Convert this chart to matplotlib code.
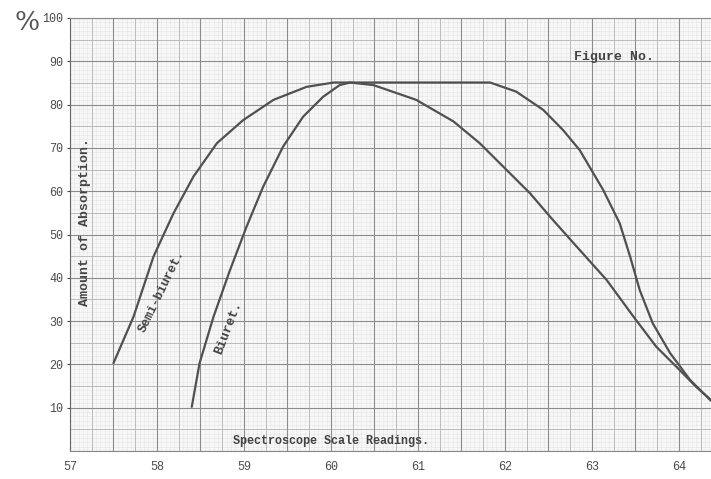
import numpy as np
import matplotlib.pyplot as plt

# readings off the scanned graph paper
semi_x = [57.50, 57.73, 57.96, 58.19, 58.42, 58.69, 58.99, 59.34, 59.72, 60.03,
          61.83, 62.13, 62.44, 62.67, 62.86, 63.13, 63.32, 63.44, 63.55, 63.70,
          63.90, 64.13, 64.37]
semi_y = [20.3, 31.0, 44.9, 54.9, 63.4, 71.1, 76.4, 81.1, 84.1, 85.1,
          85.1, 83.0, 78.8, 74.1, 69.5, 60.3, 52.6, 44.9, 37.2, 29.5,
          22.6, 16.4, 11.6]

biuret_x = [58.40, 58.49, 58.65, 58.84, 59.03, 59.22, 59.45, 59.68, 59.91, 60.10,
            60.22, 60.49, 60.98, 61.41, 61.71, 61.98, 62.29, 62.52, 62.79, 63.17,
            63.48, 63.74, 63.97, 64.20, 64.37]
biuret_y = [10.2, 20.3, 31.0, 41.8, 51.8, 61.0, 70.3, 77.2, 81.8, 84.5,
            85.1, 84.5, 81.1, 76.1, 71.1, 65.7, 59.5, 54.1, 48.0, 39.5,
            31.0, 24.1, 19.5, 14.8, 11.8]

x_ticks = [57, 58, 59, 60, 61, 62, 63, 64]
y_ticks = [10, 20, 30, 40, 50, 60, 70, 80, 90, 100]

mono = 'Liberation Mono'
ink = '#4a4a4a'

fig = plt.figure(figsize=(7.11, 4.79), dpi=100)
ax = fig.add_axes([70 / 711, 28 / 479, 1 - 70 / 711, (451 - 18) / 479])
ax.set_xlim(57, 64.37)
ax.set_ylim(0, 100)
ax.set_facecolor('#f7f7f7')

# graph paper
for v in np.arange(57, 64.4, 0.05):
    ax.axvline(v, color='#d6d6d6', lw=0.4, ls=(0, (1, 1)), zorder=0)
for v in np.arange(0, 100, 1):
    ax.axhline(v, color='#d6d6d6', lw=0.4, ls=(0, (1, 1)), zorder=0)
for v in np.arange(57, 64.4, 0.25):
    ax.axvline(v, color='#b4b4b4', lw=0.6, zorder=0)
for v in np.arange(0, 100, 5):
    ax.axhline(v, color='#b4b4b4', lw=0.6, zorder=0)
for v in np.arange(57, 64.4, 0.5):
    ax.axvline(v, color='#8c8c8c', lw=0.8, zorder=0)
for v in np.arange(0, 101, 10):
    ax.axhline(v, color='#8c8c8c', lw=0.8, zorder=0)

ax.plot(semi_x, semi_y, color='#505050', lw=1.6, zorder=3,
        solid_joinstyle='round', solid_capstyle='round')
ax.plot(biuret_x, biuret_y, color='#505050', lw=1.6, zorder=3,
        solid_joinstyle='round', solid_capstyle='round')

for s in ['top', 'bottom']:
    ax.spines[s].set_color('#888888')
ax.spines['left'].set_color('#666666')
ax.spines['right'].set_visible(False)

ax.set_xticks(x_ticks)
ax.set_xticklabels([str(t) for t in x_ticks], family=mono, fontsize=8.5, color=ink)
ax.set_yticks(y_ticks)
ax.set_yticklabels([str(t) for t in y_ticks], family=mono, fontsize=8.5, color=ink)
ax.tick_params(axis='x', length=0, pad=7)
ax.tick_params(axis='y', length=2, color=ink, pad=3)

fig.text(15 / 711, 1 - 22 / 479, '%', family='DejaVu Serif', fontsize=19,
         color='#555555', ha='left', va='center')

ax.text(57.17, 53, 'Amount of Absorption.', family=mono, fontsize=9.5,
        color='#444444', rotation=90, ha='center', va='center', weight='bold')
ax.text(58.05, 37.0, 'Semi-biuret.', family=mono, fontsize=9, color='#444444',
        rotation=64, ha='center', va='center', weight='bold')
ax.text(58.82, 28.4, 'Biuret.', family=mono, fontsize=9.5, color='#444444',
        rotation=69, ha='center', va='center', weight='bold')
ax.text(63.25, 91, 'Figure No.', family=mono, fontsize=9.5, color='#444444',
        ha='center', va='center', weight='bold')
ax.text(60.0, 1.0, 'Spectroscope Scale Readings.', family=mono, fontsize=8.5,
        color='#444444', ha='center', va='bottom', weight='bold')

fig.savefig('out.png', dpi=100)
